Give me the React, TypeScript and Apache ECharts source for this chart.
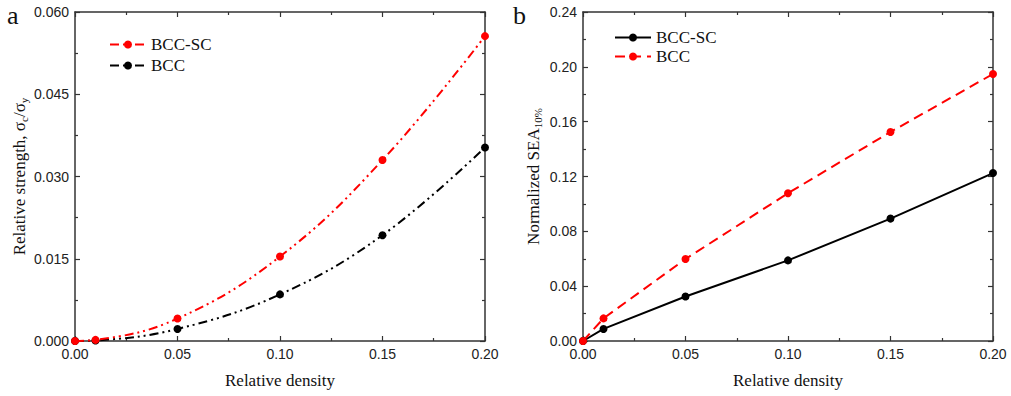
import React, { useEffect, useRef } from "react";
import * as echarts from "echarts";

const density = [0, 0.01, 0.05, 0.1, 0.15, 0.2];
// Panel a: relative strength
const strengthBCCSC = [0, 0.0002, 0.0041, 0.0154, 0.033, 0.0556];
const strengthBCC = [0, 0.0001, 0.0022, 0.0085, 0.0193, 0.0353];
// Panel b: normalized SEA
const seaBCCSC = [0, 0.0088, 0.0325, 0.0588, 0.0893, 0.1225];
const seaBCC = [0, 0.0165, 0.0598, 0.1078, 0.1525, 0.1948];

const xTicks = { min: 0, max: 0.2, interval: 0.05 };
const yTicksA = { min: 0, max: 0.06, interval: 0.015 };
const yTicksB = { min: 0, max: 0.24, interval: 0.04 };

const SANS = "Liberation Sans, Arial, sans-serif";
const SERIF = "Liberation Serif, Times New Roman, serif";
const AXC = "#333";

function pairs(xs: number[], ys: number[]) {
  return xs.map((x, i) => [x, ys[i]]);
}

function xAxes(gridIndex: number) {
  const base = {
    type: "value" as const,
    gridIndex,
    min: xTicks.min,
    max: xTicks.max,
    interval: xTicks.interval,
    axisLine: { show: true, onZero: false, lineStyle: { color: AXC, width: 1.5 } },
    axisTick: { show: true, inside: true, length: 5, lineStyle: { color: AXC, width: 1.2 } },
    minorTick: { show: true, splitNumber: 2, length: 3, lineStyle: { color: AXC, width: 1.2 } },
    splitLine: { show: false },
  };
  return [
    {
      ...base,
      position: "bottom",
      name: "Relative density",
      nameLocation: "middle",
      nameGap: 31,
      nameTextStyle: { fontFamily: SERIF, fontSize: 17, color: "#111" },
      axisLabel: {
        fontFamily: SANS,
        fontSize: 14,
        color: "#222",
        margin: 6,
        formatter: (v: number) => v.toFixed(2),
      },
    },
    { ...base, position: "top", axisLabel: { show: false } },
  ];
}

function yAxes(gridIndex: number, t: { min: number; max: number; interval: number }, digits: number, name: string, nameGap: number) {
  const base = {
    type: "value" as const,
    gridIndex,
    min: t.min,
    max: t.max,
    interval: t.interval,
    axisLine: { show: true, onZero: false, lineStyle: { color: AXC, width: 1.5 } },
    axisTick: { show: true, inside: true, length: 5, lineStyle: { color: AXC, width: 1.2 } },
    minorTick: { show: true, splitNumber: 2, length: 3, lineStyle: { color: AXC, width: 1.2 } },
    splitLine: { show: false },
  };
  return [
    {
      ...base,
      position: "left",
      name,
      nameLocation: "middle",
      nameGap,
      nameRotate: 90,
      nameTextStyle: {
        fontFamily: SERIF,
        fontSize: 17,
        color: "#111",
        rich: {
          sub: { fontFamily: SERIF, fontSize: 11, color: "#111", padding: [9, 0, 0, 0] },
        },
      },
      axisLabel: {
        fontFamily: SANS,
        fontSize: 14,
        color: "#222",
        margin: 6,
        formatter: (v: number) => v.toFixed(digits),
      },
    },
    { ...base, position: "right", axisLabel: { show: false } },
  ];
}

export default function App() {
  const ref = useRef<HTMLDivElement>(null);
  useEffect(() => {
    document.body.style.margin = "0";
    const chart = echarts.init(ref.current!, null, { renderer: "svg" });
    const dashDotDot = [9, 4, 2, 4, 2, 4];
    chart.setOption({
      animation: false,
      backgroundColor: "#fff",
      grid: [
        { left: 75, right: 526, top: 12, bottom: 55 },
        { left: 583, right: 18, top: 12, bottom: 55 },
      ],
      xAxis: [...xAxes(0), ...xAxes(1)],
      yAxis: [
        ...yAxes(0, yTicksA, 3, "Relative strength, σ{sub|c}/σ{sub|y}", 46),
        ...yAxes(1, yTicksB, 2, "Normalized SEA{sub|10%}", 40),
      ],
      legend: [
        {
          left: 104,
          top: 31,
          orient: "vertical",
          itemWidth: 36,
          itemHeight: 10,
          itemGap: 4,
          textStyle: { fontFamily: SERIF, fontSize: 17, color: "#111" },
          data: ["BCC-SC (a)", "BCC (a)"],
          formatter: (n: string) => n.replace(" (a)", ""),
        },
        {
          left: 609,
          top: 24,
          orient: "vertical",
          itemWidth: 36,
          itemHeight: 10,
          itemGap: 2,
          textStyle: { fontFamily: SERIF, fontSize: 17, color: "#111" },
          data: ["BCC-SC (b)", "BCC (b)"],
          formatter: (n: string) => n.replace(" (b)", ""),
        },
      ],
      graphic: [
        { type: "text", left: 7, top: 2, style: { text: "a", font: "26px " + SERIF, fill: "#111" } },
        { type: "text", left: 513, top: 2, style: { text: "b", font: "26px " + SERIF, fill: "#111" } },
      ],
      series: [
        {
          name: "BCC-SC (a)",
          type: "line",
          xAxisIndex: 0,
          yAxisIndex: 0,
          data: pairs(density, strengthBCCSC),
          smooth: 0.4,
          symbol: "circle",
          symbolSize: 8,
          color: "#ff0000",
          lineStyle: { color: "#ff0000", width: 2, type: dashDotDot },
        },
        {
          name: "BCC (a)",
          type: "line",
          xAxisIndex: 0,
          yAxisIndex: 0,
          z: 1,
          data: pairs(density, strengthBCC),
          smooth: 0.4,
          symbol: "circle",
          symbolSize: 8,
          color: "#000",
          lineStyle: { color: "#000", width: 2, type: dashDotDot },
        },
        {
          name: "BCC-SC (b)",
          type: "line",
          xAxisIndex: 2,
          yAxisIndex: 2,
          data: pairs(density, seaBCCSC),
          symbol: "circle",
          symbolSize: 8,
          color: "#000",
          lineStyle: { color: "#000", width: 2, type: "solid" },
        },
        {
          name: "BCC (b)",
          type: "line",
          xAxisIndex: 2,
          yAxisIndex: 2,
          data: pairs(density, seaBCC),
          symbol: "circle",
          symbolSize: 8,
          color: "#ff0000",
          lineStyle: { color: "#ff0000", width: 2, type: [10, 6] },
        },
      ],
    });
    return () => chart.dispose();
  }, []);
  return <div ref={ref} style={{ width: 1011, height: 396 }} />;
}
